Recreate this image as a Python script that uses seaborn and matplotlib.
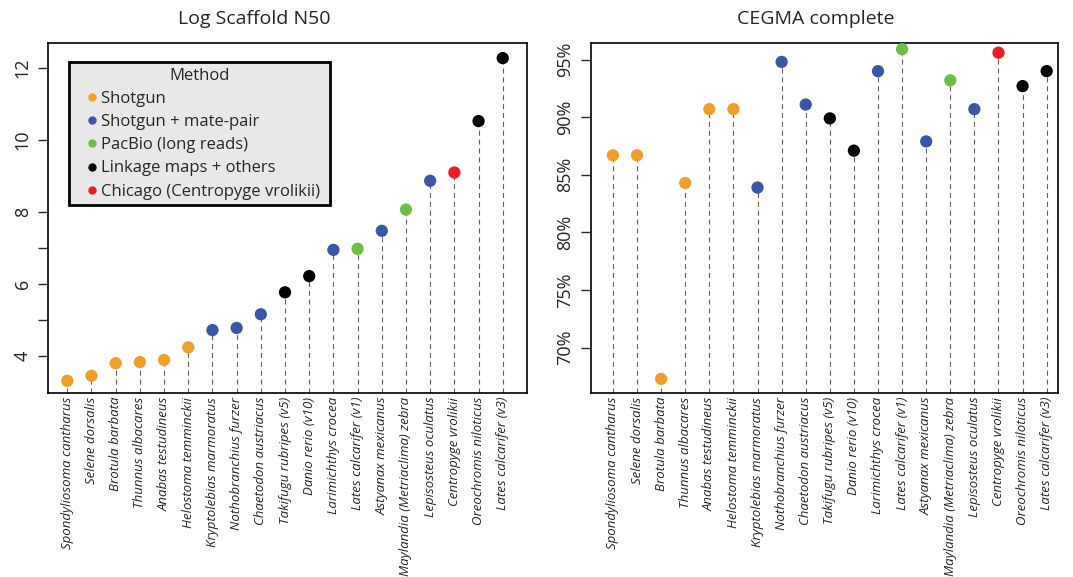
import numpy as np
import pandas as pd
import matplotlib
matplotlib.use('Agg')
import matplotlib.pyplot as plt
import seaborn as sns
from matplotlib.lines import Line2D

# species in plotting order
species = ['Spondyliosoma cantharus', 'Selene dorsalis', 'Brotula barbata',
           'Thunnus albacares', 'Anabas testudineus', 'Helostoma temminckii',
           'Kryptolebias marmoratus', 'Nothobranchius furzer', 'Chaetodon austriacus',
           'Takifugu rubripes (v5)', 'Danio rerio (v10)', 'Larimichthys crocea',
           'Lates calcarifer (v1)', 'Astyanax mexicanus', 'Maylandia (Metriaclima) zebra',
           'Lepisosteus oculatus', 'Centropyge vrolikii', 'Oreochromis niloticus',
           'Lates calcarifer (v3)']

methods = ['Shotgun'] * 6 + ['Shotgun + mate-pair'] * 3 + ['Linkage maps + others'] * 2 + \
          ['Shotgun + mate-pair', 'PacBio (long reads)', 'Shotgun + mate-pair',
           'PacBio (long reads)', 'Shotgun + mate-pair', 'Chicago (Centropyge vrolikii)',
           'Linkage maps + others', 'Linkage maps + others']

log_n50 = [3.30, 3.44, 3.79, 3.82, 3.88, 4.23, 4.71, 4.77, 5.15, 5.76, 6.21,
           6.94, 6.97, 7.47, 8.06, 8.86, 9.09, 10.52, 12.27]
cegma = [86.7, 86.7, 67.3, 84.3, 90.7, 90.7, 83.9, 94.8, 91.1, 89.9, 87.1,
         94.0, 95.9, 87.9, 93.2, 90.7, 95.6, 92.7, 94.0]

method_order = ['Shotgun', 'Shotgun + mate-pair', 'PacBio (long reads)',
                'Linkage maps + others', 'Chicago (Centropyge vrolikii)']
method_colors = ['#EFA02A', '#3B56A6', '#6DBE45', '#000000', '#EC1C24']
palette = dict(zip(method_order, method_colors))

df = pd.DataFrame({'species': species, 'method': methods,
                   'log_n50': log_n50, 'cegma': cegma})
df['pos'] = np.arange(1, len(df) + 1)

sns.set_style('white')
plt.rcParams['font.family'] = ['Open Sans', 'DejaVu Sans']

fig = plt.figure(figsize=(10.73, 5.77), dpi=100)
W, H = 1073, 577
ax1 = fig.add_axes([48.3 / W, 1 - 392.7 / H, 478.4 / W, 349.7 / H])
ax2 = fig.add_axes([591 / W, 1 - 392.7 / H, 467 / W, 349.7 / H])


def lollipop(ax, col, ylim, xlim):
    ax.vlines(df['pos'], ylim[0], df[col], colors='#606060', linestyles=(0, (4.5, 3.5)),
              linewidth=0.8, zorder=1)
    sns.scatterplot(data=df, x='pos', y=col, hue='method', palette=palette,
                    s=78, linewidth=0, legend=False, ax=ax, zorder=3)
    ax.set_ylim(*ylim)
    ax.set_xlim(*xlim)
    ax.set_xticks(df['pos'])
    ax.set_xticklabels(df['species'], rotation=90, style='italic', fontsize=9.5)
    ax.tick_params(axis='x', length=0, pad=3)
    ax.tick_params(axis='y', length=7, width=1, direction='out', left=True, pad=5,
                   labelsize=13)
    ax.set_xlabel('')
    ax.set_ylabel('')
    for sp in ax.spines.values():
        sp.set_visible(True)
        sp.set_color('black')
        sp.set_linewidth(1.2)


lollipop(ax1, 'log_n50', (2.97, 12.69), (0.215, 19.99))
ax1.set_yticks([4, 5, 6, 7, 8, 10, 12])
ax1.set_yticklabels(['4', '', '6', '', '8', '10', '12'], rotation=90, va='center')

lollipop(ax2, 'cegma', (66.1, 96.44), (0.09, 19.47))
ax2.set_yticks([70, 75, 80, 85, 90, 95])
ax2.set_yticklabels([f'{v}%' for v in [70, 75, 80, 85, 90, 95]], rotation=90, va='center')

fig.text(254 / W, 1 - 19 / H, 'Log Scaffold N50', ha='center', va='center', fontsize=14)
fig.text(816 / W, 1 - 19 / H, 'CEGMA complete', ha='center', va='center', fontsize=14)

handles = [Line2D([], [], marker='o', linestyle='', color=palette[m], markersize=5)
           for m in method_order]
leg = ax1.legend(handles, [m + ' ' for m in method_order], title='Method', loc='upper left',
                 bbox_to_anchor=(0.043, 0.9457), fontsize=12, title_fontsize=12,
                 frameon=True, fancybox=False, handletextpad=-0.49, handlelength=2.06,
                 labelspacing=0.43, borderpad=0.35, borderaxespad=0)
frame = leg.get_frame()
frame.set_facecolor('#E8E8E8')
frame.set_edgecolor('black')
frame.set_linewidth(2)
frame.set_alpha(1)

fig.savefig('out.png', dpi=100)
